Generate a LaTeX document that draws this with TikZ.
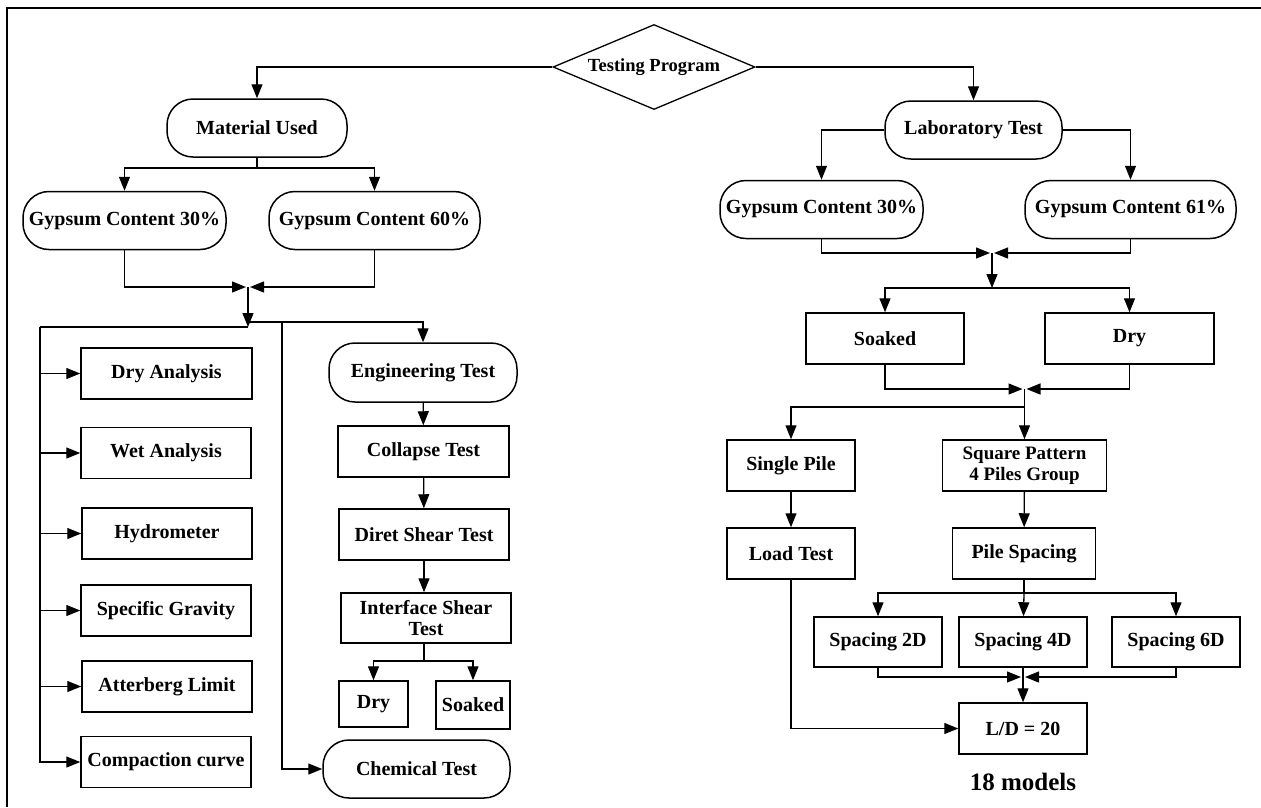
\documentclass[tikz,border=0pt]{standalone}
\usepackage{fontspec}
\setmainfont{Liberation Serif}
\usepackage{tikz}
\usetikzlibrary{shapes.geometric,arrows.meta}

\begin{document}
\begin{tikzpicture}[x=1pt,y=-1pt]
\tikzstyle{every node}+=[inner sep=1pt,align=center,font=\fontsize{20}{23}\selectfont\bfseries]
\tikzstyle{box}=[draw,line width=1.5pt,minimum height=51pt]
\tikzstyle{pill}=[draw,line width=1.5pt,rounded corners=26pt,minimum height=58pt]
\tikzstyle{wire}=[line width=1.3pt]
\tikzstyle{link}=[line width=1.3pt,-{Triangle[length=14pt,width=11pt]}]
\tikzstyle{meet}=[link,shorten >=2pt]
\useasboundingbox (0,0) rectangle (1261,807);
\draw [line width=2pt] (1261,8) -- (7,8) -- (7,807);
\node [diamond,draw,line width=1.3pt,aspect=2.4,minimum width=202pt,minimum height=85pt,inner sep=0pt,font=\fontsize{18.5}{22}\selectfont\bfseries] (tp) at (654,67) {Testing Program};
\node [pill,minimum width=180pt] (mat) at (257,128) {Material Used};
\node [pill,minimum width=203pt] (gA) at (124.5,220.5) {Gypsum Content 30\%};
\node [pill,minimum width=211pt] (gB) at (374.5,220.5) {Gypsum Content 60\%};
\node [pill,minimum width=177pt] (lab) at (973.5,130) {Laboratory Test};
\node [pill,minimum width=203pt] (gC) at (821.5,209.5) {Gypsum Content 30\%};
\node [pill,minimum width=211pt] (gD) at (1130.5,209.5) {Gypsum Content 61\%};
\node [box,minimum width=171pt] (dry) at (166.5,373.5) {Dry Analysis};
\node [box,minimum width=170pt] (wet) at (166,453) {Wet Analysis};
\node [box,minimum width=170pt] (hyd) at (167,533.5) {Hydrometer};
\node [box,minimum width=170pt] (sg) at (166,610.5) {Specific Gravity};
\node [box,minimum width=170pt] (att) at (167,686.5) {Atterberg Limit};
\node [box,minimum width=170pt] (comp) at (166,762) {Compaction curve};
\node [pill,minimum width=188pt,minimum height=59pt] (eng) at (423,372.5) {Engineering Test};
\node [box,minimum width=171pt] (col) at (423.5,451.5) {Collapse Test};
\node [box,minimum width=170pt] (dst) at (424,534.5) {Diret Shear Test};
\node [box,minimum width=170pt,minimum height=50pt,font=\fontsize{20}{21}\selectfont\bfseries] (ist) at (426,618) {Interface Shear\\Test};
\node [box,minimum width=69pt,minimum height=46pt] (sdry) at (373.5,704) {Dry};
\node [box,minimum width=74pt,minimum height=48pt] (ssoak) at (473,705) {Soaked};
\node [pill,minimum width=187pt] (chem) at (416.5,769) {Chemical Test};
\node [box,minimum width=158pt] (soak) at (885,338.5) {Soaked};
\node [box,minimum width=169pt] (rdry) at (1129.5,338.5) {Dry};
\node [box,minimum width=128pt] (sp) at (791,465.5) {Single Pile};
\node [box,minimum width=164pt,font=\fontsize{19}{21}\selectfont\bfseries] (sq) at (1024.5,465.5) {Square Pattern\\ 4 Piles Group};
\node [box,minimum width=128pt] (lt) at (791,553.5) {Load Test};
\node [box,minimum width=143pt] (ps) at (1024,553.5) {Pile Spacing};
\node [box,minimum width=128pt,minimum height=50pt] (s2) at (878,642) {Spacing 2D};
\node [box,minimum width=128pt,minimum height=50pt] (s4) at (1023,642) {Spacing 4D};
\node [box,minimum width=128pt,minimum height=50pt] (s6) at (1176,642) {Spacing 6D};
\node [box,minimum width=128pt] (ld) at (1023,728.5) {L/D = 20};
\node [font=\fontsize{25}{28}\selectfont\bfseries] (mdl) at (1023,782) {18 models};
\coordinate (mj) at (257,168);
\coordinate (jA) at (248,287);
\coordinate (jB) at (248,327);
\coordinate (lft) at (40,327);
\coordinate (jR) at (248,322);
\coordinate (chv) at (282,322);
\coordinate (isj) at (424,661);
\coordinate (jC) at (992,253);
\coordinate (jD) at (992,288);
\coordinate (jE) at (1024.5,389);
\coordinate (jF) at (1024.5,407);
\coordinate (jG) at (1024,593);
\coordinate (jH) at (1023,677);
\draw [link] (tp) -| (mat);
\draw [link] (tp) -| (lab);
\draw [wire] (mat) -- (mj);
\draw [link] (mj) -| (gA);
\draw [link] (mj) -| (gB);
\draw [meet] (gA) |- (jA);
\draw [meet] (gB) |- (jA);
\draw [link] (jA) -- (jB);
\draw [wire] (jB) -- (lft);
\draw [link] (lft) |- (comp);
\foreach \n in {dry,wet,hyd,sg,att}
  \draw [link] (lft |- \n) -- (\n);
\draw [link] (jR) -| (eng);
\draw [link] (chv) |- (chem);
\draw [link] (eng) -- (col);
\draw [link] (col) -- (dst);
\draw [link] (dst) -- (dst |- ist.north);
\draw [wire] (ist.south -| isj) -- (isj);
\draw [link] (isj) -| (sdry);
\draw [link] (isj) -| (ssoak);
\draw [link] (lab) -| (gC);
\draw [link] (lab) -| (gD);
\draw [meet] (gC) |- (jC);
\draw [meet] (gD) |- (jC);
\draw [link] (jC) -- (jD);
\draw [link] (jD) -| (soak);
\draw [link] (jD) -| (rdry);
\draw [meet] (soak) |- (jE);
\draw [meet] (rdry) |- (jE);
\draw [link] (jE) -- (sq);
\draw [link] (jF) -| (sp);
\draw [link] (sp) -- (lt);
\draw [link] (sq) -- (ps);
\draw [wire] (ps) -- (jG);
\draw [link] (jG) -| (s2);
\draw [link] (jG) -- (s4);
\draw [link] (jG) -| (s6);
\draw [meet] (s2) |- (jH);
\draw [meet] (s6) |- (jH);
\draw [link] (s4) -- (ld);
\draw [link] (lt) |- (ld);
\end{tikzpicture}
\end{document}
